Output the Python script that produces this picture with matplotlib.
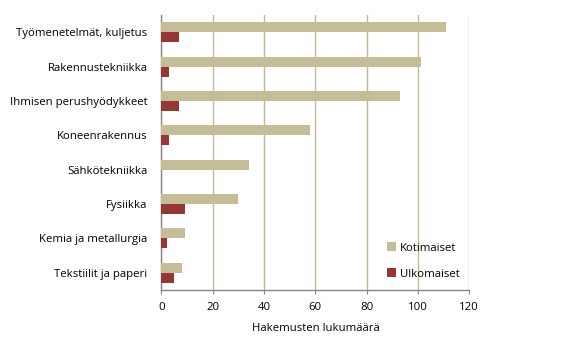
import matplotlib
matplotlib.use("Agg")
import matplotlib.pyplot as plt
import numpy as np

plt.rcParams['font.family'] = ['Open Sans', 'DejaVu Sans']

# data
categories = ["Työmenetelmät, kuljetus", "Rakennustekniikka", "Ihmisen perushyödykkeet",
              "Koneenrakennus", "Sähkötekniikka", "Fysiikka",
              "Kemia ja metallurgia", "Tekstiilit ja paperi"]
kotimaiset = [111, 101, 93, 58, 34, 30, 9, 8]
ulkomaiset = [7, 3, 7, 3, 0, 9, 2, 5]
xticks = [0, 20, 40, 60, 80, 100, 120]

col_koti = "#C4BD97"
col_ulko = "#953735"
grid_col = "#C4B98A"
axis_col = "#868686"

fig = plt.figure(figsize=(5.87, 3.53), dpi=100)
ax = fig.add_axes([0.2751, 0.1785, 0.5244, 0.779])

y = np.arange(len(categories))
h = 0.29
ax.barh(y - h / 2, kotimaiset, height=h, color=col_koti, label="Kotimaiset", zorder=3)
ax.barh(y + h / 2, ulkomaiset, height=h, color=col_ulko, label="Ulkomaiset", zorder=3)

ax.set_ylim(len(categories) - 0.5, -0.5)
ax.set_xlim(0, 120)
ax.set_xticks(xticks)
ax.set_yticks(y)
ax.set_yticklabels(categories)

ax.xaxis.grid(True, color=grid_col, linewidth=1.0, zorder=0)
ax.set_axisbelow(True)

for s in ["top", "right"]:
    ax.spines[s].set_visible(False)
for s in ["left", "bottom"]:
    ax.spines[s].set_color(axis_col)
    ax.spines[s].set_linewidth(1.0)

fs = 8.2
ax.tick_params(axis="y", length=0, pad=10, labelsize=fs)
ax.tick_params(axis="x", length=3, color=axis_col, pad=6, labelsize=fs)

ax.set_xlabel("Hakemusten lukumäärä", fontsize=fs, labelpad=7)

ax.legend(loc="lower left", bbox_to_anchor=(0.70, 0.0), frameon=False, fontsize=fs,
          handlelength=0.8, handleheight=0.8, handletextpad=0.3, labelspacing=1.3)

fig.savefig("out.png", dpi=100)
